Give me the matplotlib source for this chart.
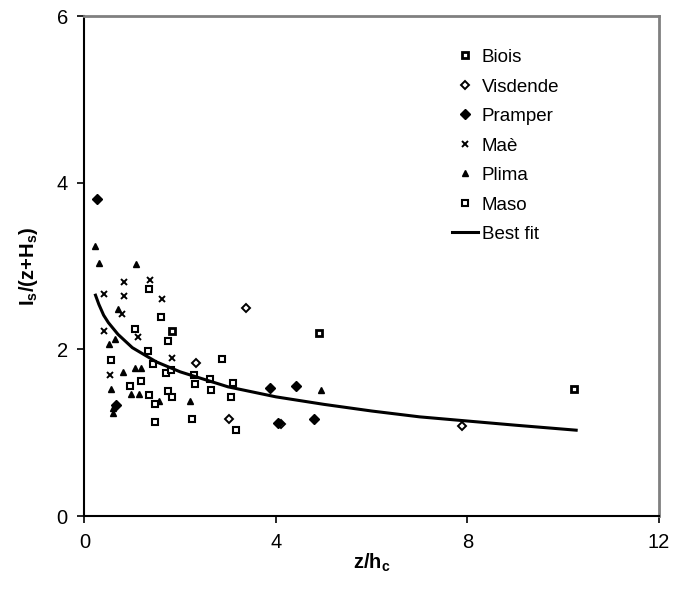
import matplotlib.pyplot as plt

plt.rcParams['font.family'] = ['Liberation Sans', 'DejaVu Sans']
plt.rcParams['mathtext.fontset'] = 'custom'
plt.rcParams['mathtext.rm'] = 'Liberation Sans'
plt.rcParams['mathtext.it'] = 'Liberation Sans:italic'
plt.rcParams['mathtext.bf'] = 'Liberation Sans:bold'

# Data
biois_x = [1.83, 4.90, 10.23]
biois_y = [2.22, 2.20, 1.53]

visdende_x = [2.32, 3.37, 3.02, 4.10, 7.89]
visdende_y = [1.84, 2.50, 1.17, 1.10, 1.08]

pramper_x = [0.27, 0.65, 3.87, 4.42, 4.05, 4.79]
pramper_y = [3.80, 1.33, 1.54, 1.56, 1.12, 1.17]

mae_x = [0.82, 1.37, 0.41, 0.82, 1.61, 0.79, 0.41, 1.12, 1.82, 0.53]
mae_y = [2.81, 2.83, 2.67, 2.64, 2.60, 2.43, 2.22, 2.15, 1.90, 1.69]

plima_x = [0.22, 0.31, 1.07, 0.69, 0.64, 0.52, 0.81, 1.05, 1.19, 0.55,
           0.98, 1.13, 1.55, 2.20, 0.60, 0.59, 4.94]
plima_y = [3.24, 3.04, 3.02, 2.48, 2.13, 2.06, 1.73, 1.78, 1.78, 1.53,
           1.46, 1.47, 1.38, 1.38, 1.30, 1.24, 1.51]

maso_x = [1.35, 1.59, 1.06, 1.75, 1.33, 0.56, 1.44, 1.70, 1.80, 1.18,
          2.29, 2.62, 2.31, 0.95, 2.65, 1.74, 1.83, 1.35, 1.47, 1.48,
          2.25, 2.87, 3.11, 3.06, 3.16]
maso_y = [2.73, 2.39, 2.24, 2.10, 1.98, 1.87, 1.82, 1.72, 1.75, 1.62,
          1.69, 1.65, 1.58, 1.56, 1.51, 1.50, 1.43, 1.45, 1.34, 1.13,
          1.16, 1.89, 1.60, 1.43, 1.03]

fit_x = [0.23, 0.3, 0.4, 0.5, 0.7, 1.0, 1.5, 2.0, 3.0, 4.0, 5.0, 6.0, 7.0, 8.0, 9.0, 10.27]
fit_y = [2.65, 2.54, 2.41, 2.32, 2.18, 2.02, 1.85, 1.73, 1.55, 1.43, 1.34, 1.26, 1.19, 1.14, 1.09, 1.03]

# Plot
fig = plt.figure(figsize=(6.77, 5.89), dpi=100)
ax = fig.add_axes([0.1248, 0.1239, 0.8486, 0.8489])

ax.plot(biois_x, biois_y, 's', ms=4.5, mfc='white', mec='black', mew=2.0, label='Biois')
ax.plot(visdende_x, visdende_y, 'D', ms=4.5, mfc='white', mec='black', mew=1.4, label='Visdende')
ax.plot(pramper_x, pramper_y, 'D', ms=5, color='black', label='Pramper')
ax.plot(mae_x, mae_y, 'x', ms=5, color='black', mew=1.4, label='Maè')
ax.plot(plima_x, plima_y, '^', ms=4.5, color='black', label='Plima')
ax.plot(maso_x, maso_y, 's', ms=4.8, mfc='white', mec='black', mew=1.5, label='Maso')
ax.plot(fit_x, fit_y, '-', color='black', lw=2.2, label='Best fit')

ax.set_xlim(0, 12)
ax.set_ylim(0, 6)
ax.set_xticks([0, 4, 8, 12])
ax.set_yticks([0, 2, 4, 6])
ax.tick_params(direction='out', length=5, width=1.2, labelsize=14.5, pad=7)

for side in ['left', 'bottom']:
    ax.spines[side].set_linewidth(1.5)
    ax.spines[side].set_color('black')
for side in ['top', 'right']:
    ax.spines[side].set_linewidth(2)
    ax.spines[side].set_color('#808080')

ax.set_xlabel(r'$\mathbf{z/h_c}$', fontsize=14.5, labelpad=0)
ax.set_ylabel(r'$\mathbf{I_s/(z{+}H_s)}$', fontsize=14.5, labelpad=12)

ax.legend(loc='upper left', bbox_to_anchor=(0.623, 0.953), frameon=False,
          fontsize=13.5, handlelength=1.4, handletextpad=0.2,
          labelspacing=0.66, borderpad=0)

fig.savefig('out.png', dpi=100)
